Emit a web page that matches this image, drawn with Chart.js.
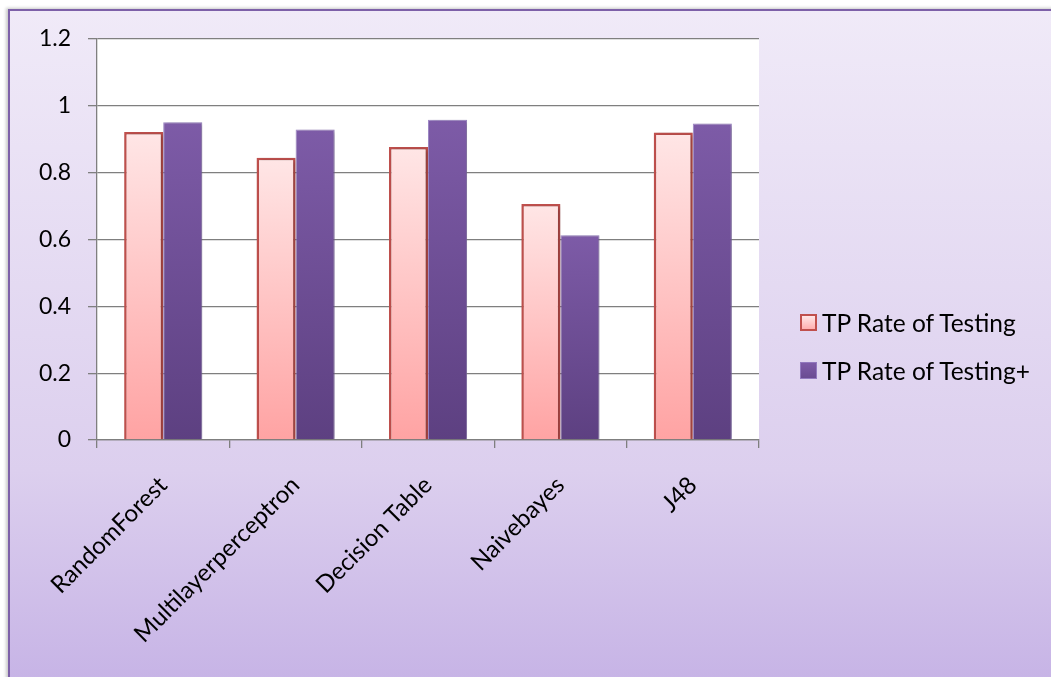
<!DOCTYPE html>
<html>
<head>
<meta charset="utf-8">
<title>TP Rate comparison</title>
<script src="https://cdn.jsdelivr.net/npm/chart.js@4.4.0/dist/chart.umd.min.js"></script>
<style>
  html, body { margin: 0; padding: 0; width: 1051px; height: 677px; overflow: hidden; background: #ffffff; }
  #frame {
    position: absolute; left: 8px; top: 9px; width: 1100px; height: 720px;
    border-left: 2px solid #7d60a8; border-top: 2px solid #7d60a8;
    background: linear-gradient(to bottom, #f0eaf8 0px, #dccfee 460px, #c7b4e6 668px);
    box-shadow: -2px -1px 3px rgba(0,0,0,0.22);
  }
  #chart { position: absolute; left: 0; top: 0; }
  .legend-item {
    position: absolute; left: 800px; height: 30px; display: flex; align-items: center;
    font-family: Lato, "Open Sans", sans-serif; font-size: 24.5px; color: #000; white-space: nowrap;
  }
  .legend-box { width: 17px; height: 17px; box-sizing: border-box; margin-right: 5px; }
</style>
</head>
<body>
<div id="frame"></div>
<canvas id="chart" width="1051" height="677"></canvas>
<div id="legend"></div>
<script>
// Classifiers compared
const categories = ["RandomForest", "Multilayerperceptron", "Decision Table", "Naivebayes", "J48"];
// TP rate per classifier
const tpRateTesting     = [0.922, 0.845, 0.877, 0.706, 0.920];
const tpRateTestingPlus = [0.951, 0.929, 0.958, 0.613, 0.947];
const seriesNames = ["TP Rate of Testing", "TP Rate of Testing+"];
// Value axis ticks
const yTicks = [0, 0.2, 0.4, 0.6, 0.8, 1, 1.2];

const FONT = "Lato, 'Open Sans', sans-serif";
const AXIS_GREY = '#7f7f7f';

// Vertical gradient running from the top of each bar down to the baseline
function barGradient(topColor, bottomColor) {
  return (ctx) => {
    const chart = ctx.chart;
    if (!chart.chartArea || ctx.type !== 'data') return topColor;
    const y = chart.scales.y;
    const yTop = y.getPixelForValue(ctx.raw);
    const yBase = y.getPixelForValue(0);
    const g = chart.ctx.createLinearGradient(0, yTop, 0, yBase);
    g.addColorStop(0, topColor);
    g.addColorStop(1, bottomColor);
    return g;
  };
}

// Soft drop shadow behind the bars
const barShadow = {
  id: 'barShadow',
  beforeDatasetsDraw(chart) {
    const c = chart.ctx;
    c.save();
    c.shadowColor = 'rgba(0,0,0,0.28)';
    c.shadowBlur = 4;
    c.shadowOffsetX = 2;
    c.shadowOffsetY = 1;
  },
  afterDatasetsDraw(chart) { chart.ctx.restore(); }
};

// White plotting area
const plotBackground = {
  id: 'plotBackground',
  beforeDraw(chart) {
    const { ctx, chartArea: a } = chart;
    ctx.save();
    ctx.fillStyle = '#ffffff';
    ctx.fillRect(a.left, a.top, a.right - a.left, a.bottom - a.top);
    ctx.restore();
  }
};

const chart = new Chart(document.getElementById('chart'), {
  type: 'bar',
  data: {
    labels: categories,
    datasets: [
      {
        label: seriesNames[0],
        data: tpRateTesting,
        backgroundColor: barGradient('#ffe6e6', '#ffa3a3'),
        borderColor: '#c0504d',
        borderWidth: 2.5,
        borderSkipped: 'bottom',
        legendTop: '#ffe6e6', legendBottom: '#ffb0b0'
      },
      {
        label: seriesNames[1],
        data: tpRateTestingPlus,
        backgroundColor: barGradient('#7d5ba7', '#5d4081'),
        borderColor: 'rgba(150,125,195,0.9)',
        borderWidth: 1,
        borderSkipped: 'bottom',
        legendTop: '#7d5ba7', legendBottom: '#6a4b92'
      }
    ]
  },
  options: {
    responsive: false,
    animation: false,
    devicePixelRatio: 1,
    layout: { padding: { left: 0, top: 39, right: 292, bottom: 0 } },
    plugins: {
      legend: { display: false },
      tooltip: { enabled: false }
    },
    datasets: { bar: { categoryPercentage: 0.59, barPercentage: 1.0 } },
    scales: {
      x: {
        afterFit(scale) { scale.height = 237; },
        grid: { display: true, drawOnChartArea: false, offset: true, tickLength: 8, color: AXIS_GREY, lineWidth: 1.3 },
        border: { display: true, color: AXIS_GREY, width: 1.3 },
        ticks: {
          minRotation: 45, maxRotation: 45, autoSkip: false, padding: 23,
          color: '#000', font: { family: FONT, size: 24 }
        }
      },
      y: {
        min: 0, max: 1.2,
        afterFit(scale) { scale.width = 97; },
        afterBuildTicks(scale) { scale.ticks = yTicks.map(v => ({ value: v })); },
        grid: { color: AXIS_GREY, lineWidth: 1.3, tickLength: 9 },
        border: { display: true, color: AXIS_GREY, width: 1.3 },
        ticks: {
          padding: 17, color: '#000', font: { family: FONT, size: 23 },
          callback: (v) => String(Math.round(v * 10) / 10)
        }
      }
    }
  },
  plugins: [plotBackground, barShadow]
});

// Legend on the right, built from the datasets
const legendCenters = [322, 370];
const legendEl = document.getElementById('legend');
chart.data.datasets.forEach((ds, i) => {
  const item = document.createElement('div');
  item.className = 'legend-item';
  item.style.top = (legendCenters[i] - 15) + 'px';
  const box = document.createElement('span');
  box.className = 'legend-box';
  box.style.background = 'linear-gradient(to bottom,' + ds.legendTop + ',' + ds.legendBottom + ')';
  box.style.border = ds.borderWidth > 1 ? '2px solid ' + ds.borderColor : '1px solid ' + ds.borderColor;
  const txt = document.createElement('span');
  txt.textContent = ds.label;
  item.appendChild(box);
  item.appendChild(txt);
  legendEl.appendChild(item);
});
</script>
</body>
</html>
